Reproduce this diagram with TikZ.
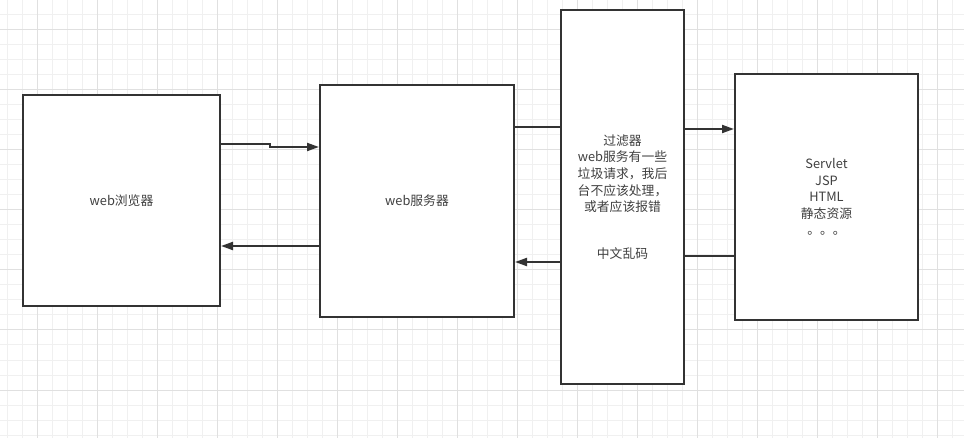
\documentclass[tikz,border=0pt]{standalone}
\usepackage{fontspec}
\setmainfont{Noto Sans CJK SC}
\usetikzlibrary{arrows.meta}
\definecolor{lineC}{HTML}{333333}
\definecolor{gridminor}{HTML}{F0F0F0}
\definecolor{gridmajor}{HTML}{E0E0E0}
\tikzset{
  box/.style={draw=lineC, line width=2pt, fill=white, rectangle, inner sep=0pt,
    text=black!75, align=center, font=\fontsize{12.8}{16.6}\selectfont},
  conn/.style={draw=lineC, line width=2pt},
  arr/.style={conn, -{Triangle[length=12pt,width=8pt]}},
}
\begin{document}
\begin{tikzpicture}[x=1pt,y=1pt,yscale=-1]
\useasboundingbox (0,0) rectangle (964,438);
\fill[white] (0,0) rectangle (964,438);
% grid
\foreach \x in {7.5,22.5,...,964} \draw[gridminor, line width=1pt] (\x,0) -- (\x,438);
\foreach \y in {0,15,...,438} \draw[gridminor, line width=1pt] (0,\y) -- (964,\y);
\foreach \x in {37.5,97.5,...,964} \draw[gridmajor, line width=1pt] (\x,0) -- (\x,438);
\foreach \y in {30,90,...,438} \draw[gridmajor, line width=1pt] (0,\y) -- (964,\y);
% boxes
\node[box, minimum width=197pt, minimum height=211pt] (browser) at (121.5,200.5) {web浏览器};
\node[box, minimum width=194pt, minimum height=232pt] (server) at (417,201) {web服务器};
\node[box, minimum width=123pt, minimum height=374pt] (filter) at (622.5,197)
  {过滤器\\web服务有一些\\垃圾请求，我后\\台不应该处理，\\或者应该报错\\[30pt]中文乱码};
\node[box, minimum width=183pt, minimum height=246pt] (servlet) at (826.5,197)
  {Servlet\\JSP\\HTML\\静态资源\\。。。};
% connectors
\draw[arr] (browser.east |- 0,144) -- (270,144) -- (270,147) -- (server.west |- 0,147);
\draw[arr] (server.west |- 0,246) -- (browser.east |- 0,246);
\draw[conn] (server.east |- 0,127) -- (filter.west |- 0,127);
\draw[arr] (filter.east |- 0,129) -- (servlet.west |- 0,129);
\draw[conn] (servlet.west |- 0,256) -- (filter.east |- 0,256);
\draw[arr] (filter.west |- 0,262) -- (server.east |- 0,262);
\end{tikzpicture}
\end{document}
